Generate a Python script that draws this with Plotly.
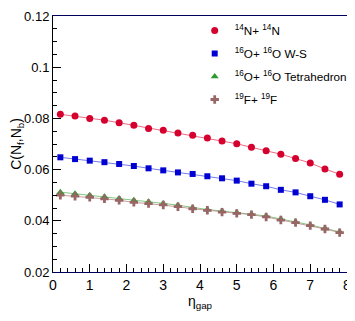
import plotly.graph_objects as go

# eta_gap bin centres
eta_gap = [0.2, 0.6, 1.0, 1.4, 1.8, 2.2, 2.6, 3.0, 3.4, 3.8,
           4.2, 4.6, 5.0, 5.4, 5.8, 6.2, 6.6, 7.0, 7.4, 7.8]

c_n14 = [0.0816, 0.0809, 0.0800, 0.0793, 0.0783, 0.0773, 0.0761, 0.0754, 0.0743, 0.0734,
         0.0723, 0.0712, 0.0701, 0.0687, 0.0674, 0.0660, 0.0643, 0.0626, 0.0602, 0.0582]
c_o16_ws = [0.0648, 0.0641, 0.0635, 0.0629, 0.0622, 0.0614, 0.0605, 0.0597, 0.0589, 0.0583,
            0.0574, 0.0566, 0.0557, 0.0545, 0.0535, 0.0521, 0.0511, 0.0496, 0.0482, 0.0464]
c_o16_tetra = [0.0512, 0.0506, 0.0500, 0.0494, 0.0487, 0.0480, 0.0474, 0.0468, 0.0461, 0.0451,
               0.0444, 0.0438, 0.0432, 0.0427, 0.0419, 0.0407, 0.0396, 0.0384, 0.0370, 0.0357]
c_f19 = [0.0500, 0.0496, 0.0492, 0.0486, 0.0480, 0.0472, 0.0467, 0.0462, 0.0455, 0.0447,
         0.0441, 0.0434, 0.0429, 0.0424, 0.0415, 0.0403, 0.0393, 0.0381, 0.0368, 0.0354]

series = [
    ("<sup>14</sup>N+ <sup>14</sup>N", c_n14, "#d6002e", "rgba(230,80,110,0.85)", "circle", 7),
    ("<sup>16</sup>O+ <sup>16</sup>O W-S", c_o16_ws, "#0000d2", "rgba(90,100,230,0.85)", "square", 6),
    ("<sup>16</sup>O+ <sup>16</sup>O Tetrahedron", c_o16_tetra, "#2e9a2e", "rgba(110,190,110,0.85)", "triangle-up", 7),
    ("<sup>19</sup>F+ <sup>19</sup>F", c_f19, "#996666", "rgba(190,140,140,0.85)", "cross", 7),
]

FONT = "Liberation Sans, Arial, sans-serif"

fig = go.Figure()
for i, (name, vals, mcol, lcol, sym, size) in enumerate(series):
    fig.add_trace(go.Scatter(
        x=eta_gap, y=vals, mode="lines", showlegend=False,
        line=dict(color=lcol, width=1),
    ))
    fig.add_trace(go.Scatter(
        x=eta_gap, y=vals, mode="markers", name=name,
        legendgroup=f"g{i}",
        marker=dict(color=mcol, size=size, symbol=sym, line=dict(width=0)),
    ))

# page body adds an 8px margin, so the figure is sized to fit the window
fig.update_layout(
    width=347, height=313,
    margin=dict(l=45, r=8, t=8, b=49, autoexpand=False),
    paper_bgcolor="white", plot_bgcolor="white",
    font=dict(family=FONT, color="black", size=13),
    legend=dict(
        x=0.482, y=1.0, xanchor="left", yanchor="top",
        bgcolor="rgba(0,0,0,0)", font=dict(size=11.7),
        itemwidth=30, tracegroupgap=4,
    ),
)
fig.update_xaxes(
    range=[0, 8], dtick=1, tick0=0, automargin=False,
    ticks="inside", ticklen=8, tickcolor="black",
    minor=dict(dtick=0.2, ticks="inside", ticklen=4, tickcolor="black"),
    showgrid=False, zeroline=False,
    showline=True, linecolor="#00005a", linewidth=1, mirror=True,
    tickfont=dict(size=14),
    title=dict(text="η<sub>gap</sub>", font=dict(size=14), standoff=4),
)
fig.update_yaxes(
    range=[0.02, 0.12], dtick=0.02, tick0=0.02, automargin=False,
    ticks="inside", ticklen=8, tickcolor="black",
    minor=dict(dtick=0.005, ticks="inside", ticklen=4, tickcolor="black"),
    showgrid=False, zeroline=False,
    showline=True, linecolor="black", linewidth=1, mirror=True,
    tickfont=dict(size=13),
    title=dict(text="C(N<sub>f</sub>,N<sub>b</sub>)", font=dict(size=14), standoff=4),
)

fig.write_html("out.html")
